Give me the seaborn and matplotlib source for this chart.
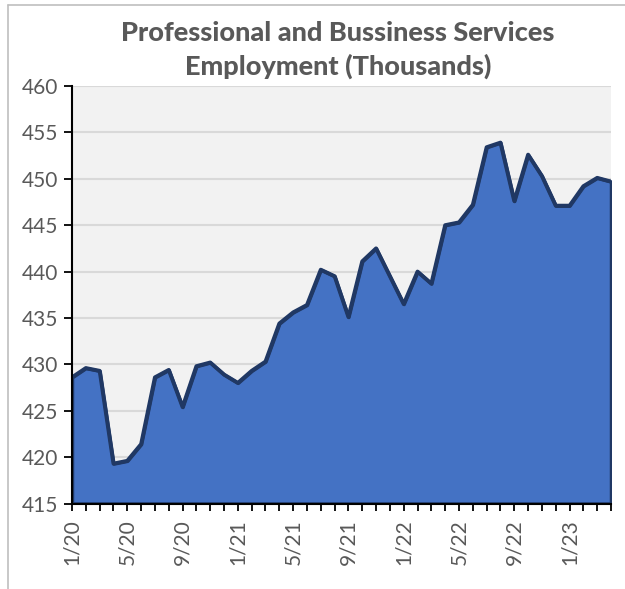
import matplotlib
matplotlib.use("Agg")
import matplotlib.pyplot as plt
from matplotlib.lines import Line2D
import seaborn as sns
import pandas as pd

# monthly values, 1/20 .. 4/23
months = [f"{m}/{y}" for y in (20, 21, 22, 23) for m in range(1, 13)][:40]
employment = [428.6, 429.6, 429.3, 419.3, 419.6, 421.4, 428.6, 429.4, 425.4, 429.8,
              430.2, 428.9, 428.0, 429.3, 430.3, 434.4, 435.6, 436.4, 440.2, 439.5,
              435.1, 441.1, 442.5, 439.5, 436.5, 440.0, 438.7, 445.0, 445.3, 447.2,
              453.4, 453.9, 447.6, 452.6, 450.3, 447.1, 447.1, 449.2, 450.1, 449.7]
y_ticks = [415, 420, 425, 430, 435, 440, 445, 450, 455, 460]

df = pd.DataFrame({"idx": range(len(months)), "month": months, "value": employment})

sns.set_style("white")
plt.rcParams["font.family"] = ["Lato", "DejaVu Sans"]

fig = plt.figure(figsize=(6.25, 5.89), dpi=100)
ax = fig.add_axes([72 / 625, 1 - 503.5 / 589, (611 - 72) / 625, (503.5 - 86) / 589])
ax.set_facecolor("#F2F2F2")

ax.fill_between(df["idx"], df["value"], 415, facecolor="#4472C4",
                edgecolor="#203864", linewidth=2.5, zorder=2)
sns.lineplot(data=df, x="idx", y="value", ax=ax, color="#203864",
             linewidth=2.8, zorder=3)

ax.set_xlim(0, len(months) - 1)
ax.set_ylim(415, 460)
ax.set_yticks(y_ticks)
ax.set_yticklabels([str(v) for v in y_ticks])
ax.set_xticks(range(len(months)))
ax.set_xticklabels([m if i % 4 == 0 else "" for i, m in enumerate(months)], rotation=90)
ax.grid(axis="y", color="#D9D9D9", linewidth=1.5, zorder=0)
ax.set_axisbelow(True)
ax.set_xlabel("")
ax.set_ylabel("")

for side in ("top", "right"):
    ax.spines[side].set_visible(False)
for side in ("left", "bottom"):
    ax.spines[side].set_color("black")
    ax.spines[side].set_linewidth(1.5)
    ax.spines[side].set_zorder(4)

ax.tick_params(axis="y", direction="out", length=6, width=1.3, color="black",
               labelsize=15, labelcolor="#595959", pad=4)
ax.tick_params(axis="x", direction="out", length=5, width=1.3, color="black",
               labelsize=15, labelcolor="#595959", pad=6)
ax.tick_params(left=True, bottom=True)

fig.text(338 / 625, 1 - 50 / 589, "Professional and Bussiness Services\nEmployment (Thousands)",
         ha="center", va="center", fontsize=19.5, fontweight="black", color="#595959",
         linespacing=1.4)

# chart frame (only left and top edges visible in the crop)
fig.add_artist(Line2D([8 / 625, 8 / 625], [0, 1 - 5 / 589], transform=fig.transFigure,
                      color="#BFBFBF", linewidth=1.2))
fig.add_artist(Line2D([8 / 625, 1], [1 - 5 / 589, 1 - 5 / 589], transform=fig.transFigure,
                      color="#BFBFBF", linewidth=1.2))

fig.savefig("out.png", dpi=100)
